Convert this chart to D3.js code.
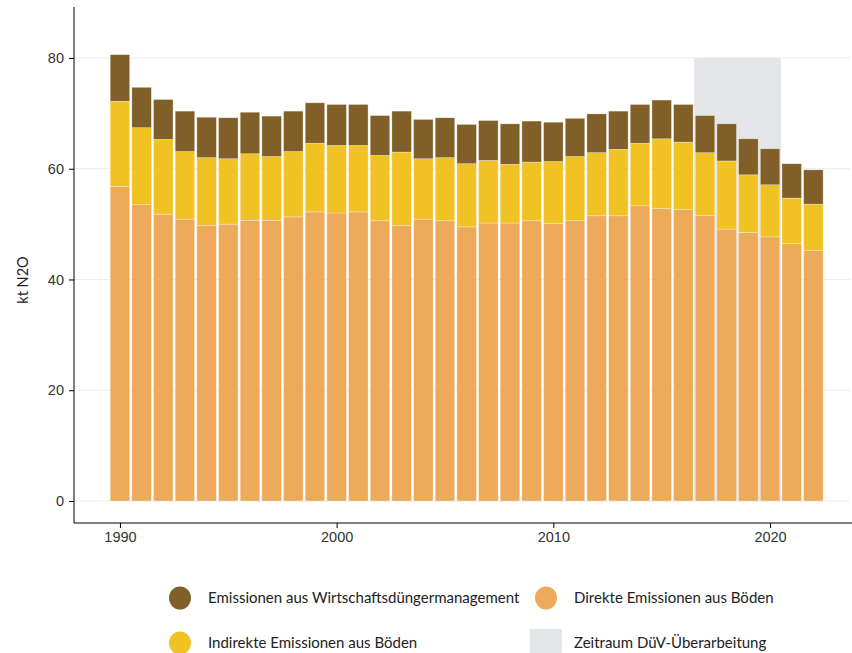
<!DOCTYPE html>
<html>
<head>
<meta charset="utf-8">
<script src="https://cdn.jsdelivr.net/npm/d3@7"></script>
<style>
    body { margin: 0; background: #fff; }
    svg { font-family: Lato, "Open Sans", sans-serif; }
    .grid line { stroke: #ebebeb; stroke-width: 1; }
    .axis text { font-size: 14.5px; fill: #333; }
    .axis path, .axis line { stroke: #000; }
    .legend text { font-size: 15px; fill: #222; }
</style>
</head>
<body>
<svg id="chart" width="852" height="653"></svg>
<script>
// years and emission parts in kt N2O
const years = d3.range(1990, 2023);
const direkt = [56.8, 53.5, 51.8, 50.9, 49.8, 50.0, 50.7, 50.7, 51.3, 52.2, 52.0,
    52.2, 50.6, 49.8, 50.9, 50.6, 49.5, 50.2, 50.2, 50.6, 50.1,
    50.6, 51.5, 51.5, 53.3, 52.8, 52.6, 51.6, 49.1, 48.5, 47.7, 46.5, 45.2];
const indirekt = [15.4, 13.9, 13.5, 12.2, 12.2, 11.8, 12.0, 11.5, 11.8, 12.4, 12.2,
    12.0, 11.8, 13.2, 10.9, 11.4, 11.4, 11.3, 10.6, 10.6, 11.2,
    11.6, 11.4, 12.0, 11.3, 12.6, 12.2, 11.3, 12.3, 10.4, 9.4, 8.2, 8.4];
const wirtschaft = [8.4, 7.3, 7.2, 7.3, 7.3, 7.4, 7.5, 7.3, 7.3, 7.3, 7.4,
    7.4, 7.2, 7.4, 7.1, 7.2, 7.1, 7.2, 7.3, 7.4, 7.1,
    6.9, 7.0, 6.9, 7.0, 7.0, 6.8, 6.7, 6.7, 6.5, 6.5, 6.2, 6.2];
const yTicks = [0, 20, 40, 60, 80];
const xTicks = [1990, 2000, 2010, 2020];
const duevPeriod = [2016.5, 2020.5];

const keys = ["direkt", "indirekt", "wirtschaft"];
const colors = {direkt: "#ecaa5a", indirekt: "#f0c224", wirtschaft: "#806028"};

let table = years.map((yr, i) => ({
    year: yr, direkt: direkt[i], indirekt: indirekt[i], wirtschaft: wirtschaft[i]
}));

let svg = d3.select("#chart");
let margin = {left: 74, right: 850, top: 7, bottom: 523};

let x = d3.scaleLinear().domain([1987.88, 2023.69]).range([margin.left, margin.right]);
let y = d3.scaleLinear().domain([-3.97, 89.2]).range([margin.bottom, margin.top]);
let barW = x(1990.45) - x(1989.55);

// grid
svg.append("g").attr("class", "grid")
    .selectAll("line").data(yTicks).enter().append("line")
    .attr("x1", margin.left).attr("x2", margin.right)
    .attr("y1", d => y(d)).attr("y2", d => y(d));

// DüV revision period
svg.append("rect")
    .attr("x", x(duevPeriod[0]))
    .attr("width", x(duevPeriod[1]) - x(duevPeriod[0]))
    .attr("y", y(80))
    .attr("height", y(0) - y(80))
    .attr("fill", "#e4e5e8");

let series = d3.stack().keys(keys)(table);

svg.append("g").selectAll("g")
    .data(series).enter().append("g")
    .attr("fill", d => colors[d.key])
    .selectAll("rect")
    .data(d => d).enter().append("rect")
    .attr("x", d => x(d.data.year) - barW / 2)
    .attr("width", barW)
    .attr("y", d => y(d[1]))
    .attr("height", d => y(d[0]) - y(d[1]))
    .attr("stroke", "#fff")
    .attr("stroke-opacity", 0.5)
    .attr("stroke-width", 0.6);

// axes
svg.append("g")
    .attr("class", "axis")
    .attr("transform", "translate(" + margin.left + ",0)")
    .call(d3.axisLeft(y).tickValues(yTicks).tickSize(5).tickPadding(5).tickSizeOuter(0))
    .call(g => g.select(".domain").attr("d", "M0," + margin.top + "V" + margin.bottom));

svg.append("g")
    .attr("class", "axis")
    .attr("transform", "translate(0," + margin.bottom + ")")
    .call(d3.axisBottom(x).tickValues(xTicks).tickFormat(d3.format("d")).tickSize(5).tickPadding(4).tickSizeOuter(0))
    .call(g => g.select(".domain").attr("d", "M" + margin.left + ",0H852"));

svg.append("text")
    .attr("transform", "translate(28," + ((margin.top + margin.bottom) / 2 + 15) + ") rotate(-90)")
    .attr("text-anchor", "middle")
    .attr("font-size", 14.5)
    .attr("fill", "#222")
    .text("kt N2O");

// legend
let legendItems = [
    {label: "Emissionen aus Wirtschaftsdüngermanagement", color: colors.wirtschaft, lx: 180, ly: 598, shape: "circle"},
    {label: "Direkte Emissionen aus Böden", color: colors.direkt, lx: 546, ly: 598, shape: "circle"},
    {label: "Indirekte Emissionen aus Böden", color: colors.indirekt, lx: 180, ly: 643, shape: "circle"},
    {label: "Zeitraum DüV-Überarbeitung", color: "#e4e5e8", lx: 546, ly: 643, shape: "rect"}
];

let legend = svg.append("g").attr("class", "legend")
    .selectAll("g").data(legendItems).enter().append("g")
    .attr("transform", d => "translate(" + d.lx + "," + d.ly + ")");

legend.filter(d => d.shape == "circle").append("ellipse")
    .attr("rx", 11).attr("ry", 11.5)
    .attr("fill", d => d.color);

legend.filter(d => d.shape == "rect").append("rect")
    .attr("x", -16).attr("y", -14).attr("width", 32).attr("height", 32)
    .attr("fill", d => d.color);

legend.append("text")
    .attr("x", 28)
    .attr("dy", "0.35em")
    .text(d => d.label);
</script>
</body>
</html>
